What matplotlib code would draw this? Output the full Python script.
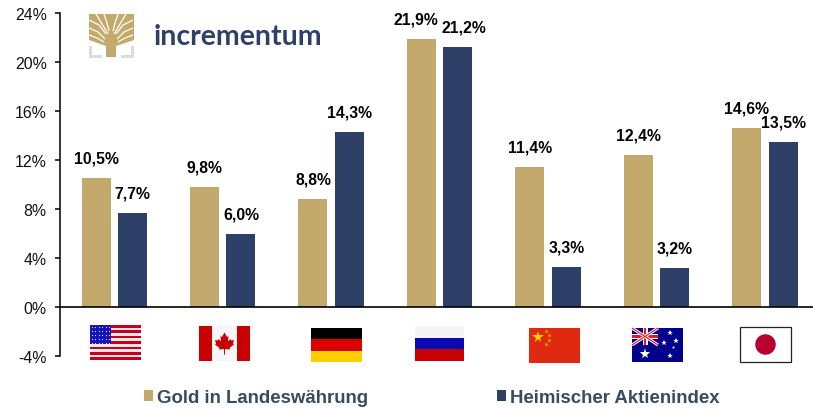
import matplotlib
matplotlib.use("Agg")
import matplotlib.pyplot as plt
import matplotlib.patches as mpatches
import numpy as np

plt.rcParams["font.family"] = ["Liberation Sans", "DejaVu Sans"]

GOLD = "#c3a96b"
NAVY = "#2e4068"
W, H = 813, 410

countries = ["USA", "Kanada", "Deutschland", "Russland", "China", "Australien", "Japan"]
gold = [10.5, 9.8, 8.8, 21.9, 11.4, 12.4, 14.6]
aktien = [7.7, 6.0, 14.3, 21.2, 3.3, 3.2, 13.5]
gold_labels = ["10,5%", "9,8%", "8,8%", "21,9%", "11,4%", "12,4%", "14,6%"]
aktien_labels = ["7,7%", "6,0%", "14,3%", "21,2%", "3,3%", "3,2%", "13,5%"]
yticks = [-4, 0, 4, 8, 12, 16, 20, 24]


def rect(a, x0, y0, x1, y1, c, **kw):
    a.add_patch(mpatches.Rectangle((x0, y0), x1 - x0, y1 - y0, fc=c, ec="none", **kw))


def flag_us(a, x0, y0, x1, y1):
    rect(a, x0, y0, x1, y1, "#f4e8e8")
    h = (y1 - y0) / 13
    for i in range(0, 13, 2):
        rect(a, x0, y0 + i * h, x1, y0 + (i + 1) * h, "#c8001e")
    rect(a, x0, y0, x0 + 21, y0 + 7 * h, "#1414b4")
    for i in range(5):
        for j in range(6):
            a.plot(x0 + 2 + j * 3.4, y0 + 2 + i * 3.9, "o", ms=0.9, color="#d8d8f8", mew=0)


def flag_ca(a, x0, y0, x1, y1):
    rect(a, x0, y0, x1, y1, "#f6f6f6")
    rect(a, x0, y0, x0 + 13, y1, "#c80000")
    rect(a, x1 - 13, y0, x1, y1, "#c80000")
    cx, cy = (x0 + x1) / 2, (y0 + y1) / 2
    leaf = [(0, -11), (2.5, -6.5), (4, -7.5), (3.5, -2), (6, -4.5), (6.5, -3), (9.5, -3.5),
            (8.5, 0), (9.5, 1), (5, 4.5), (5.5, 6), (0.5, 5.5), (0.5, 11), (-0.5, 11), (-0.5, 5.5),
            (-5.5, 6), (-5, 4.5), (-9.5, 1), (-8.5, 0), (-9.5, -3.5), (-6.5, -3), (-6, -4.5),
            (-3.5, -2), (-4, -7.5), (-2.5, -6.5)]
    a.add_patch(mpatches.Polygon([(cx + p, cy + q) for p, q in leaf], fc="#c80000", ec="none"))


def flag_tri(a, x0, y0, x1, y1, cols):
    h = (y1 - y0) / 3
    for i, c in enumerate(cols):
        rect(a, x0, y0 + i * h, x1, y0 + (i + 1) * h, c)


def flag_cn(a, x0, y0, x1, y1):
    rect(a, x0, y0, x1, y1, "#e02a10")
    a.plot(x0 + 8.5, y0 + 8.5, "*", ms=8.5, color="#ffd800", mew=0)
    for dx, dy in [(17, 3), (20, 7), (20, 12), (17, 15.5)]:
        a.plot(x0 + dx, y0 + dy, "*", ms=3.2, color="#ffb000", mew=0)


def flag_au(a, x0, y0, x1, y1):
    rect(a, x0, y0, x1, y1, "#00008b")
    ux, uy = x0 + 26, y0 + 17
    a.plot([x0, ux], [y0, uy], color="white", lw=2.2, solid_capstyle="butt")
    a.plot([x0, ux], [uy, y0], color="white", lw=2.2, solid_capstyle="butt")
    a.plot([x0, ux], [y0, uy], color="#e81020", lw=0.8, solid_capstyle="butt")
    a.plot([x0, ux], [uy, y0], color="#e81020", lw=0.8, solid_capstyle="butt")
    rect(a, x0 + 10.5, y0, x0 + 15.5, uy, "white")
    rect(a, x0, y0 + 6, ux, y0 + 11, "white")
    rect(a, x0 + 11.7, y0, x0 + 14.3, uy, "#f01020")
    rect(a, x0, y0 + 7.2, ux, y0 + 9.8, "#f01020")
    a.plot(x0 + 13, y0 + 25.5, "*", ms=8, color="white", mew=0)
    for dx, dy, s in [(38, 5, 4.2), (32, 15, 4), (44, 12.5, 4), (41, 18.5, 2.4), (38, 28, 4)]:
        a.plot(x0 + dx, y0 + dy, "*", ms=s, color="white", mew=0)


def flag_jp(a, x0, y0, x1, y1):
    a.add_patch(mpatches.Rectangle((x0, y0), x1 - x0, y1 - y0, fc="white", ec="#222222", lw=0.9))
    a.add_patch(mpatches.Ellipse(((x0 + x1) / 2, (y0 + y1) / 2), 20.5, 20.5, fc="#b9002f", ec="none"))


def draw_logo(a):
    # goldene krone mit weissen schlitzen, dann stamm
    a.add_patch(mpatches.Polygon([(89, 15), (134, 15), (134, 41), (116, 47), (116, 58), (106, 58),
                                  (106, 47), (89, 41)], fc=GOLD, ec="none"))
    slits = [
        ([89, 99, 106], [21, 26, 35]),
        ([89, 98, 105], [29, 33, 40]),
        ([89, 97, 104], [36, 39, 43]),
        ([96, 102, 108], [15, 25, 35]),
        ([104, 107, 109], [15, 24, 32]),
    ]
    for xs, ys in slits:
        a.plot(xs, ys, color="white", lw=0.9, solid_capstyle="butt")
        a.plot([222 - v for v in xs], ys, color="white", lw=0.9, solid_capstyle="butt")
    for x0, x1, x2 in [(89, 92, 102), (134, 131, 121)]:
        a.add_patch(mpatches.Polygon([(x0, 47), (x1, 47), (x1, 56), (x2, 56), (x2, 58.5), (x0, 58.5)],
                                     fc="#dcdcdc", ec="none"))
    a.text(154, 37, "incrementum", color=NAVY, fontsize=20.5, family="Lato", weight="bold",
           ha="left", va="center")


fig = plt.figure(figsize=(W / 100, H / 100), dpi=100)
ax = fig.add_axes([60 / W, 1 - 357 / H, (W - 60) / W, (357 - 14) / H])

step = 108.5
x = np.arange(len(countries))
bw = 29 / step
off = 18.2 / step
bars1 = ax.bar(x - off, gold, bw, color=GOLD, label="Gold in Landeswährung")
bars2 = ax.bar(x + off, aktien, bw, color=NAVY, label="Heimischer Aktienindex")

ax.set_xlim(-0.5, (W - 114) / step)
ax.set_ylim(-4, 24)
ax.set_yticks(yticks)
ax.set_yticklabels([f"{v}%" for v in yticks], fontsize=11.4, color="#111111")
ax.set_xticks([])
ax.tick_params(axis="y", length=3.6, width=1.1, pad=6)
for s in ["top", "right"]:
    ax.spines[s].set_visible(False)
ax.spines["left"].set_linewidth(1.1)
ax.spines["bottom"].set_position(("data", 0))
ax.spines["bottom"].set_linewidth(1.2)

# russland steht etwas auseinander
gold_dx = [0, 0, 0, -6, 0, 0, 0]
aktien_dx = [0, 0, 0, 6, 0, 0, 0]
for i in range(len(countries)):
    ax.annotate(gold_labels[i], (x[i] - off, gold[i]), xytext=(gold_dx[i] * 0.72, 20 * 0.72),
                textcoords="offset points", ha="center", va="center", fontsize=11.3, weight="bold")
    ax.annotate(aktien_labels[i], (x[i] + off, aktien[i]), xytext=(aktien_dx[i] * 0.72, 20 * 0.72),
                textcoords="offset points", ha="center", va="center", fontsize=11.3, weight="bold")

fig.legend(handles=[bars1, bars2], loc="center left", bbox_to_anchor=(144 / W, 1 - 398.5 / H),
           ncols=2, frameon=False, prop={"weight": "bold", "size": 13.4},
           labelcolor="#3a4a5f", handlelength=0.5, handleheight=0.5, handletextpad=0.2,
           columnspacing=6.9, borderpad=0, borderaxespad=0)

# flaggen und logo in pixelkoordinaten
ov = fig.add_axes([0, 0, 1, 1], facecolor="none")
ov.set_xlim(0, W)
ov.set_ylim(H, 0)
ov.axis("off")
flag_us(ov, 90, 326, 141, 361)
flag_ca(ov, 199, 327, 250, 362)
flag_tri(ov, 311, 329, 362, 363, ["#000000", "#dd0000", "#ffce00"])
flag_tri(ov, 415, 327, 464, 362, ["#f5f5f5", "#0a0ab4", "#c80000"])
flag_cn(ov, 529, 329, 580, 364)
flag_au(ov, 632, 329, 683, 363)
flag_jp(ov, 740, 328, 791, 363)
draw_logo(ov)

fig.savefig("out.png", dpi=100)
